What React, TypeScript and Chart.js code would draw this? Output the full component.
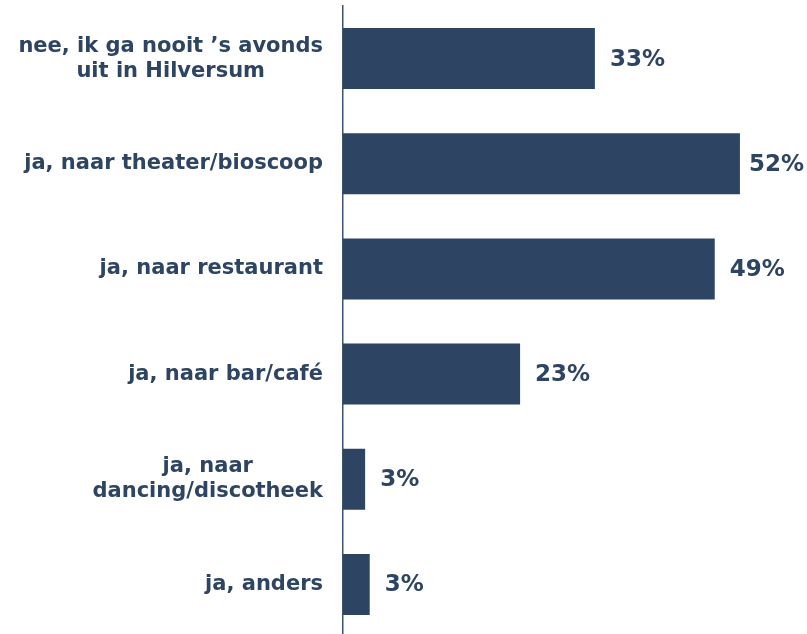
import React, { useEffect, useRef } from "react";
import { Chart, registerables } from "chart.js";

Chart.register(...registerables);

const categories: string[][] = [
  ["nee, ik ga nooit \u2019s avonds", "uit in Hilversum"],
  ["ja, naar theater/bioscoop"],
  ["ja, naar restaurant"],
  ["ja, naar bar/café"],
  ["ja, naar", "dancing/discotheek"],
  ["ja, anders"],
];
const values: number[] = [33, 52, 48.7, 23.2, 2.9, 3.5];
const valueLabels: string[] = ["33%", "52%", "49%", "23%", "3%", "3%"];

const NAVY = "#2D4562";
const FONT = "'DejaVu Sans', Verdana, sans-serif";

const labelsPlugin = {
  id: "customLabels",
  afterDatasetsDraw(chart: any) {
    const ctx = chart.ctx;
    const meta = chart.getDatasetMeta(0);
    const yScale = chart.scales.y;
    ctx.save();
    ctx.fillStyle = NAVY;
    ctx.textBaseline = "middle";

    // value labels
    ctx.font = `bold 23px ${FONT}`;
    ctx.textAlign = "left";
    meta.data.forEach((bar: any, i: number) => {
      const text = valueLabels[i];
      const w = ctx.measureText(text).width;
      let x = bar.x + 15;
      if (x + w > chart.width - 3) x = chart.width - 3 - w;
      ctx.fillText(text, x, bar.y + 1);
    });

    // category labels: block right-aligned, lines centered
    ctx.font = `bold 21px ${FONT}`;
    ctx.textAlign = "center";
    const lineH = 25;
    const rightEdge = yScale.right - 20;
    categories.forEach((lines, i) => {
      const cy = yScale.getPixelForTick(i);
      const blockW = Math.max(...lines.map((l) => ctx.measureText(l).width));
      const cx = rightEdge - blockW / 2;
      const startY = cy - ((lines.length - 1) * lineH) / 2;
      lines.forEach((l, j) => ctx.fillText(l, cx, startY + j * lineH));
    });
    ctx.restore();
  },
};

export default function App() {
  const ref = useRef<HTMLCanvasElement | null>(null);
  useEffect(() => {
    if (!ref.current) return;
    const chart = new Chart(ref.current, {
      type: "bar",
      data: {
        labels: categories.map((c) => c.join(" ")),
        datasets: [
          {
            data: values,
            backgroundColor: NAVY,
            borderWidth: 0,
            barPercentage: 0.58,
            categoryPercentage: 1,
          },
        ],
      },
      options: {
        indexAxis: "y",
        animation: false,
        responsive: true,
        maintainAspectRatio: false,
        layout: { padding: { top: 6, right: 6, bottom: 0, left: 0 } },
        plugins: {
          legend: { display: false },
          tooltip: { enabled: false },
        },
        scales: {
          x: {
            display: false,
            min: 0,
            max: 60,
          },
          y: {
            afterFit(scale: any) {
              scale.width = 343;
              scale.paddingTop = 0;
              scale.paddingBottom = 0;
            },
            grid: { display: false, drawTicks: false },
            border: { display: true, color: "#3C5470", width: 1.5 },
            ticks: { display: false },
          },
        },
      },
      plugins: [labelsPlugin],
    });
    return () => chart.destroy();
  }, []);
  return (
    <div style={{ position: "fixed", left: 0, top: 0, width: 807, height: 637, background: "#fff" }}>
      <canvas ref={ref} />
    </div>
  );
}
